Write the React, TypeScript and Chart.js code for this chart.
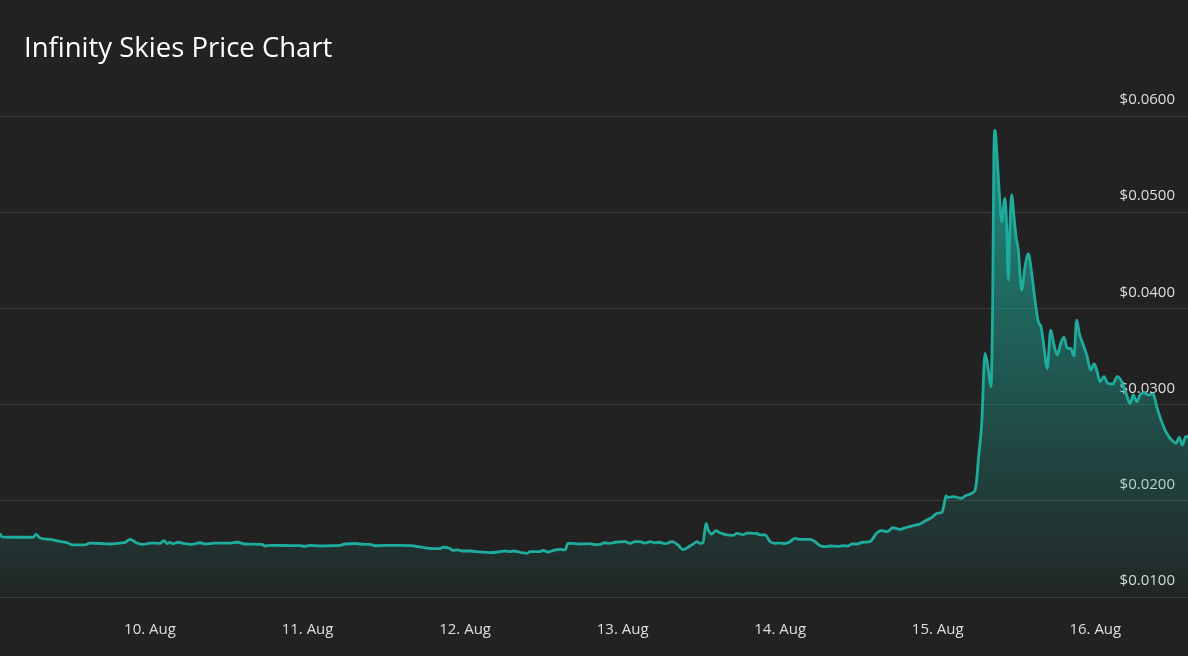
import React, { useEffect, useRef } from "react";
import { Chart, registerables } from "chart.js";

Chart.register(...registerables);

const chartTitle = "Infinity Skies Price Chart";

// hours relative to 10 Aug 00:00
const hours = [
  -22.85, -22.55, -20.56, -18.28, -17.82, -17.37, -16.76, -15.23, -13.71, -12.49,
  -11.88, -9.9, -9.14, -7.62, -6.09, -4.57, -3.81, -3.05, -1.98, -1.07,
  0, 1.52, 2.13, 2.59, 3.05, 3.5, 4.27, 5.33, 6.4, 7.62,
  8.38, 9.9, 12.19, 13.25, 14.47, 17.06, 17.52, 18.28, 21.33, 22.85,
  23.61, 24.37, 25.9, 27.42, 28.94, 29.7, 31.23, 32.75, 33.51, 34.27,
  35.8, 38.08, 39.61, 41.13, 42.65, 44.18, 44.63, 45.7, 46.16, 46.92,
  47.53, 48.75, 50.27, 51.79, 53.32, 54.08, 54.84, 55.3, 56.36, 57.43,
  57.89, 59.41, 59.87, 60.63, 61.39, 62.46, 63.22, 63.67, 63.98, 65.5,
  67.03, 67.79, 68.55, 69.31, 70.07, 70.83, 72.36, 73.12, 73.88, 74.64,
  75.4, 76.17, 76.93, 77.69, 78.45, 79.52, 80.43, 81.19, 82.26, 82.87,
  83.32, 83.78, 84.24, 84.7, 85.05, 85.56, 86.22, 86.83, 87.89, 88.81,
  89.42, 90.33, 90.94, 91.86, 92.46, 92.92, 93.68, 94.44, 95.21, 95.97,
  96.73, 97.49, 98.25, 99.01, 100.54, 101.3, 102.06, 102.82, 103.58, 104.8,
  105.57, 106.33, 106.94, 107.7, 108.61, 109.68, 110.13, 110.74, 111.5, 112.27,
  113.18, 114.25, 115.31, 116.23, 117.29, 118.36, 119.12, 119.88, 120.65, 121.0,
  121.26, 121.61, 122.37, 123.65, 124.15, 125.17, 125.67, 125.93, 126.18, 126.7,
  127.2, 127.7, 128.11, 128.37, 128.54, 128.72, 128.98, 129.37, 129.74, 130.24,
  130.5, 130.75, 131.0, 131.26, 131.61, 131.92, 132.27, 132.78, 133.29, 133.79,
  134.31, 134.81, 135.31, 135.72, 136.18, 136.68, 137.2, 137.7, 138.21, 138.73,
  139.23, 139.73, 140.25, 140.75, 141.16, 141.56, 142.08, 142.69, 143.3, 143.8,
  144.21, 144.71, 145.32, 145.89, 146.65, 147.35, 148.02, 148.68, 149.29, 149.79,
  150.3, 150.81, 151.42, 152.07, 152.83, 153.35, 154.11, 154.87, 155.64, 156.29,
  156.79, 157.25, 157.77, 158.12,
];

const prices = [
  0.01662, 0.01624, 0.01621, 0.01621, 0.01619, 0.01652, 0.01613, 0.01598, 0.01577, 0.01561,
  0.01541, 0.01541, 0.01561, 0.01556, 0.01551, 0.01561, 0.01567, 0.016, 0.01561, 0.01546,
  0.01561, 0.01558, 0.01587, 0.01556, 0.01567, 0.01554, 0.01569, 0.01554, 0.01548, 0.01564,
  0.01551, 0.01561, 0.01561, 0.01569, 0.01551, 0.01548, 0.0153, 0.01537, 0.01535, 0.01533,
  0.01527, 0.01537, 0.0153, 0.01533, 0.01537, 0.01551, 0.01556, 0.01546, 0.01548, 0.01533,
  0.01537, 0.01537, 0.01533, 0.0152, 0.01504, 0.01502, 0.01517, 0.01504, 0.01485, 0.01489,
  0.01478, 0.01478, 0.01468, 0.01461, 0.01471, 0.01478, 0.01471, 0.01478, 0.01465, 0.01454,
  0.01471, 0.01471, 0.01485, 0.01468, 0.01483, 0.01496, 0.01489, 0.01558, 0.01558, 0.01551,
  0.01554, 0.01544, 0.01546, 0.01564, 0.01558, 0.01569, 0.01575, 0.01558, 0.01575, 0.01575,
  0.01561, 0.01575, 0.01564, 0.01569, 0.01554, 0.01575, 0.01541, 0.01492, 0.0153, 0.01556,
  0.01575, 0.01558, 0.01567, 0.01766, 0.01696, 0.01655, 0.01689, 0.01668, 0.01645, 0.01641,
  0.01662, 0.01648, 0.01665, 0.01662, 0.0166, 0.01645, 0.01645, 0.01577, 0.01558, 0.01561,
  0.01556, 0.01575, 0.0161, 0.016, 0.016, 0.01575, 0.01533, 0.01523, 0.0153, 0.01527,
  0.01533, 0.0153, 0.01551, 0.01551, 0.01569, 0.01575, 0.0161, 0.01668, 0.01689, 0.01679,
  0.0172, 0.01704, 0.01725, 0.01741, 0.01759, 0.018, 0.01828, 0.0187, 0.0188, 0.01974,
  0.0205, 0.02036, 0.02043, 0.02026, 0.0205, 0.02078, 0.02112, 0.02216, 0.02424, 0.02806,
  0.03533, 0.0336, 0.03186, 0.04087, 0.05543, 0.05854, 0.05646, 0.05196, 0.04901, 0.05144,
  0.04849, 0.04295, 0.04849, 0.05179, 0.04953, 0.04745, 0.04607, 0.04191, 0.04434, 0.04566,
  0.04365, 0.04087, 0.03862, 0.0381, 0.03602, 0.03377, 0.03775, 0.0362, 0.03516, 0.03637,
  0.037, 0.03585, 0.03585, 0.03505, 0.03879, 0.03741, 0.03637, 0.03516, 0.0336, 0.03422,
  0.0336, 0.03238, 0.0329, 0.03221, 0.03214, 0.0329, 0.03238, 0.03117, 0.03013, 0.031,
  0.0303, 0.031, 0.03124, 0.031, 0.0311, 0.02978, 0.02822, 0.02702, 0.02632, 0.02598,
  0.0266, 0.0258, 0.02666, 0.02666,
];

const dayTicks = [0, 24, 48, 72, 96, 120, 144];
const dayLabels = ["10. Aug", "11. Aug", "12. Aug", "13. Aug", "14. Aug", "15. Aug", "16. Aug"];

const priceTicks = [0.01, 0.02, 0.03, 0.04, 0.05, 0.06];
const priceLabels = ["$0.0100", "$0.0200", "$0.0300", "$0.0400", "$0.0500", "$0.0600"];

const LINE = "rgb(30,172,156)";
const BG = "#222222";
const TICK_COLOR = "#dedede";
const FONT = "'Open Sans', sans-serif";

export default function App() {
  const ref = useRef<HTMLCanvasElement>(null);

  useEffect(() => {
    const canvas = ref.current;
    if (!canvas) return;
    const chart = new Chart(canvas, {
      type: "line",
      data: {
        datasets: [
          {
            data: hours.map((h, i) => ({ x: h, y: prices[i] })),
            borderColor: LINE,
            borderWidth: 2.8,
            pointRadius: 0,
            fill: "start",
            cubicInterpolationMode: "monotone",
            backgroundColor: (c: any) => {
              const area = c.chart.chartArea;
              if (!area) return "rgba(30,172,156,0.3)";
              const g = c.chart.ctx.createLinearGradient(0, area.top, 0, area.bottom);
              g.addColorStop(0, "rgba(30,172,156,0.8)");
              g.addColorStop(1, "rgba(30,172,156,0.03)");
              return g;
            },
          },
        ],
      },
      options: {
        animation: false,
        responsive: true,
        maintainAspectRatio: false,
        layout: { padding: { top: 116, bottom: 0, left: 0, right: 0 } },
        plugins: {
          legend: { display: false },
          tooltip: { enabled: false },
          title: { display: false },
        },
        scales: {
          x: {
            type: "linear",
            min: hours[0],
            max: hours[hours.length - 1],
            grid: { display: false, drawTicks: false },
            border: { display: false },
            afterBuildTicks: (s: any) => {
              s.ticks = dayTicks.map((v) => ({ value: v }));
            },
            afterFit: (s: any) => {
              s.paddingLeft = 0;
              s.paddingRight = 0;
              s.height = 59;
            },
            ticks: {
              autoSkip: false,
              maxRotation: 0,
              minRotation: 0,
              padding: 24,
              color: TICK_COLOR,
              font: { family: FONT, size: 15 },
              callback: (_v: any, i: number) => dayLabels[i],
            },
          },
          y: {
            type: "linear",
            position: "right",
            min: 0.01,
            max: 0.06,
            afterBuildTicks: (s: any) => {
              s.ticks = priceTicks.map((v) => ({ value: v }));
            },
            afterFit: (s: any) => {
              s.paddingTop = 0;
              s.paddingBottom = 0;
              s.width = 0;
            },
            grid: { color: "#3a3a3a", lineWidth: 1, drawTicks: false },
            border: { display: false },
            ticks: {
              mirror: true,
              padding: -13,
              labelOffset: -16,
              color: TICK_COLOR,
              font: { family: FONT, size: 15 },
              callback: (_v: any, i: number) => priceLabels[i],
            },
          },
        },
      },
    });
    return () => chart.destroy();
  }, []);

  return (
    <div
      style={{
        position: "fixed",
        left: 0,
        top: 0,
        width: 1188,
        height: 656,
        background: BG,
      }}
    >
      <canvas ref={ref} />
      <div
        style={{
          position: "absolute",
          left: 24,
          top: 28,
          fontFamily: FONT,
          fontSize: 27.5,
          color: "#ffffff",
          lineHeight: "normal",
          whiteSpace: "nowrap",
        }}
      >
        {chartTitle}
      </div>
    </div>
  );
}
